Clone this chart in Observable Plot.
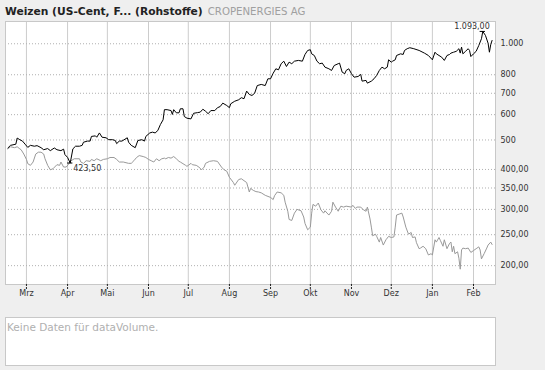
<!DOCTYPE html>
<html><head><meta charset="utf-8">
<script src="https://cdn.jsdelivr.net/npm/d3@7"></script>
<script src="https://cdn.jsdelivr.net/npm/@observablehq/plot@0.6"></script>
<style>
html,body{margin:0;padding:0;background:#efefef;width:545px;height:370px;overflow:hidden;font-family:"DejaVu Sans",sans-serif;}
#chart{position:absolute;left:0;top:0;}
#title{position:absolute;left:5px;top:7px;font-size:10.7px;white-space:nowrap;line-height:1;}
#title b{color:#222;}
#title span{color:#a0a0a0;font-size:10.2px;margin-left:5px;}
#vol{position:absolute;left:5px;top:317px;width:489px;height:47px;background:#fff;border:1px solid #c8c8c8;}
#vol span{position:absolute;left:1px;top:3px;font-size:10.5px;color:#b0b0b0;white-space:nowrap;}
</style>
</head><body>
<div id="chart"></div>
<div id="title"><b>Weizen (US-Cent, F... (Rohstoffe)</b><span>CROPENERGIES AG</span></div>
<div id="vol"><span>Keine Daten für dataVolume.</span></div>
<script>
const months = ["Jan","Feb","Mrz","Apr","Mai","Jun","Jul","Aug","Sep","Okt","Nov","Dez"];
const wheatTicks = [1000, 800, 700, 600, 500];
const cropTicks = [400, 350, 300, 250, 200];
const cropScale = 1.0108;

const wheatDates = ["2007-02-15","2007-02-17","2007-02-21","2007-02-22","2007-02-24","2007-02-26","2007-02-28","2007-03-02","2007-03-04","2007-03-07","2007-03-09","2007-03-12","2007-03-14","2007-03-17","2007-03-19","2007-03-22","2007-03-24","2007-03-27","2007-03-29","2007-03-30","2007-04-01","2007-04-03","2007-04-05","2007-04-07","2007-04-10","2007-04-12","2007-04-13","2007-04-16","2007-04-18","2007-04-19","2007-04-22","2007-04-23","2007-04-25","2007-04-27","2007-04-30","2007-05-02","2007-05-05","2007-05-07","2007-05-08","2007-05-10","2007-05-12","2007-05-16","2007-05-17","2007-05-19","2007-05-22","2007-05-24","2007-05-27","2007-05-29","2007-05-30","2007-06-02","2007-06-04","2007-06-06","2007-06-08","2007-06-10","2007-06-12","2007-06-13","2007-06-15","2007-06-18","2007-06-19","2007-06-20","2007-06-22","2007-06-24","2007-06-25","2007-06-27","2007-06-28","2007-06-30","2007-07-03","2007-07-05","2007-07-08","2007-07-10","2007-07-12","2007-07-14","2007-07-16","2007-07-18","2007-07-21","2007-07-23","2007-07-25","2007-07-27","2007-07-30","2007-08-01","2007-08-02","2007-08-05","2007-08-08","2007-08-10","2007-08-12","2007-08-14","2007-08-16","2007-08-18","2007-08-20","2007-08-22","2007-08-25","2007-08-28","2007-08-30","2007-09-01","2007-09-03","2007-09-05","2007-09-07","2007-09-09","2007-09-11","2007-09-13","2007-09-15","2007-09-17","2007-09-19","2007-09-22","2007-09-25","2007-09-27","2007-09-29","2007-10-01","2007-10-02","2007-10-04","2007-10-06","2007-10-08","2007-10-10","2007-10-12","2007-10-15","2007-10-17","2007-10-19","2007-10-22","2007-10-23","2007-10-25","2007-10-27","2007-10-28","2007-10-30","2007-11-01","2007-11-03","2007-11-06","2007-11-08","2007-11-09","2007-11-12","2007-11-13","2007-11-16","2007-11-18","2007-11-20","2007-11-22","2007-11-24","2007-11-26","2007-11-28","2007-11-29","2007-12-01","2007-12-02","2007-12-04","2007-12-05","2007-12-08","2007-12-10","2007-12-11","2007-12-13","2007-12-15","2007-12-18","2007-12-22","2007-12-26","2007-12-29","2008-01-01","2008-01-03","2008-01-04","2008-01-06","2008-01-08","2008-01-10","2008-01-12","2008-01-14","2008-01-15","2008-01-17","2008-01-19","2008-01-21","2008-01-22","2008-01-23","2008-01-24","2008-01-26","2008-01-28","2008-01-29","2008-01-30","2008-02-01","2008-02-03","2008-02-05","2008-02-07","2008-02-08","2008-02-10","2008-02-12","2008-02-13","2008-02-14","2008-02-15"];
const wheatValues = [472,481,485,507,501,496,485,474,481,478,480,473,466,470,463,472,466,463,468,450,441,423.5,469,478,478,481,492,496,496,513,515,510,526,510,508,501,501,498,487,496,496,508,492,481,473,498,501,496,513,526,529,526,535,559,578,622,622,618,601,622,608,608,626,626,592,585,582,606,609,611,624,615,604,618,618,631,636,652,641,631,649,661,668,678,673,711,694,689,700,740,746,740,777,777,809,835,829,866,882,849,876,866,882,887,882,926,953,958,930,919,882,866,870,845,835,825,855,866,870,815,806,825,835,806,786,790,802,764,768,753,764,777,796,825,845,835,845,891,876,882,891,919,930,926,953,965,972,965,953,935,919,891,941,930,919,908,887,919,926,935,941,947,965,935,976,930,947,965,953,912,930,947,988,1037,1093,1062,1004,941,995,1024];

const cropDates = ["2007-02-15","2007-02-17","2007-02-20","2007-02-22","2007-02-24","2007-02-25","2007-02-27","2007-03-01","2007-03-02","2007-03-04","2007-03-06","2007-03-08","2007-03-10","2007-03-12","2007-03-14","2007-03-15","2007-03-17","2007-03-19","2007-03-21","2007-03-24","2007-03-26","2007-03-27","2007-03-29","2007-03-31","2007-04-02","2007-04-03","2007-04-06","2007-04-10","2007-04-11","2007-04-13","2007-04-15","2007-04-18","2007-04-19","2007-04-21","2007-04-23","2007-04-26","2007-04-28","2007-05-01","2007-05-03","2007-05-06","2007-05-08","2007-05-10","2007-05-13","2007-05-17","2007-05-19","2007-05-21","2007-05-23","2007-05-25","2007-05-28","2007-05-30","2007-06-01","2007-06-03","2007-06-05","2007-06-07","2007-06-09","2007-06-11","2007-06-13","2007-06-14","2007-06-16","2007-06-18","2007-06-20","2007-06-22","2007-06-24","2007-06-25","2007-06-27","2007-06-29","2007-06-30","2007-07-03","2007-07-04","2007-07-07","2007-07-09","2007-07-11","2007-07-13","2007-07-14","2007-07-17","2007-07-20","2007-07-23","2007-07-26","2007-07-28","2007-07-30","2007-08-01","2007-08-04","2007-08-05","2007-08-08","2007-08-10","2007-08-14","2007-08-16","2007-08-17","2007-08-19","2007-08-21","2007-08-23","2007-08-25","2007-08-28","2007-09-01","2007-09-03","2007-09-04","2007-09-06","2007-09-09","2007-09-11","2007-09-12","2007-09-14","2007-09-15","2007-09-17","2007-09-19","2007-09-21","2007-09-24","2007-09-26","2007-09-27","2007-09-29","2007-10-01","2007-10-02","2007-10-03","2007-10-05","2007-10-07","2007-10-09","2007-10-11","2007-10-12","2007-10-15","2007-10-17","2007-10-18","2007-10-20","2007-10-22","2007-10-24","2007-10-26","2007-10-28","2007-11-01","2007-11-02","2007-11-04","2007-11-05","2007-11-08","2007-11-10","2007-11-12","2007-11-13","2007-11-15","2007-11-16","2007-11-17","2007-11-19","2007-11-20","2007-11-22","2007-11-23","2007-11-25","2007-11-27","2007-11-29","2007-12-01","2007-12-03","2007-12-04","2007-12-05","2007-12-07","2007-12-09","2007-12-10","2007-12-12","2007-12-14","2007-12-16","2007-12-17","2007-12-19","2007-12-20","2007-12-22","2007-12-23","2007-12-25","2007-12-27","2007-12-29","2007-12-31","2008-01-01","2008-01-03","2008-01-04","2008-01-06","2008-01-07","2008-01-09","2008-01-10","2008-01-12","2008-01-14","2008-01-15","2008-01-16","2008-01-17","2008-01-18","2008-01-20","2008-01-21","2008-01-22","2008-01-23","2008-01-24","2008-01-26","2008-01-28","2008-01-30","2008-02-01","2008-02-03","2008-02-05","2008-02-06","2008-02-07","2008-02-09","2008-02-11","2008-02-12","2008-02-14","2008-02-15"];
const cropValues = [464,471,468,471,464,461,447,430,417,412,422,447,453,453,447,432,412,399,402,414,412,422,407,407,417,424,432,432,422,418,426,424,430,426,432,426,430,432,436,436,430,422,422,418,418,426,436,442,439,436,430,426,422,432,426,432,434,432,436,434,439,432,424,422,417,412,409,418,414,412,407,399,407,418,424,426,424,407,399,395,378,364,357,372,374,364,340,349,344,341,340,338,332,327,322,331,340,338,332,316,296,279,277,292,300,297,284,271,259,264,292,311,307,314,299,292,297,288,296,316,305,296,307,305,307,305,309,302,305,305,299,296,305,280,264,248,251,247,237,245,232,241,247,245,246,264,288,290,292,284,264,251,254,245,246,236,226,227,230,226,216,218,216,241,237,245,240,230,241,226,235,237,221,230,218,221,211,195,224,227,226,227,220,223,226,229,224,210,218,227,232,237,233];

const loc = d3.formatLocale({decimal: ",", thousands: ".", grouping: [3], currency: ["", "€"]});
const f0 = loc.format(",.0f"), f2 = loc.format(",.2f");

const wheat = wheatDates.map((d, i) => ({date: new Date(d), value: wheatValues[i]}));
const crop = cropDates.map((d, i) => ({date: new Date(d), value: cropValues[i] * cropScale}));
const monthTicks = d3.utcMonth.range(new Date("2007-03-01"), new Date("2008-02-02"));
const maxPt = d3.greatest(wheat, d => d.value);
const minPt = d3.least(wheat, d => d.value);
const gridVals = wheatTicks.concat(cropTicks.map(v => v * cropScale));

const plot = Plot.plot({
  width: 545, height: 300,
  marginTop: 21, marginBottom: 16, marginLeft: 5, marginRight: 50,
  style: {background: "transparent", fontFamily: "DejaVu Sans", fontSize: "8px", color: "#333", overflow: "visible"},
  x: {type: "utc", domain: [new Date("2007-02-13T05:00Z"), new Date("2008-02-17T14:00Z")]},
  y: {type: "log", domain: [176.5, 1174]},
  marks: [
    Plot.frame({fill: "white", stroke: null}),
    Plot.gridX(monthTicks, {stroke: "#cccccc", strokeOpacity: 1}),
    Plot.gridY(gridVals, {stroke: "#b0b0b0", strokeOpacity: 1, strokeDasharray: "1,2"}),
    Plot.line(crop, {x: "date", y: "value", stroke: "#999999", strokeWidth: 1}),
    Plot.line(wheat, {x: "date", y: "value", stroke: "#000000", strokeWidth: 1}),
    Plot.ruleY([maxPt, minPt], {y: "value", x1: d => d3.utcDay.offset(d.date, -2), x2: d => d3.utcDay.offset(d.date, 2), stroke: "#000"}),
    Plot.text([maxPt], {x: "date", y: "value", text: d => f2(d.value), textAnchor: "end", dx: 7, dy: -4.5, fill: "#333", fontSize: 8}),
    Plot.text([minPt], {x: "date", y: "value", text: d => f2(d.value), textAnchor: "start", dx: 3, dy: 5, fill: "#333", fontSize: 8}),
    Plot.frame({stroke: "#c8c8c8"}),
    Plot.axisX(monthTicks, {tickSize: 5, tickPadding: 1, tickFormat: d => months[d.getUTCMonth()], stroke: "#222", strokeDasharray: "2,1", fill: "#333", label: null}),
    Plot.axisY(wheatTicks, {anchor: "right", tickSize: 0, tickPadding: 5, tickFormat: f0, fill: "#333", label: null}),
    Plot.axisY(cropTicks.map(v => v * cropScale), {anchor: "right", tickSize: 0, tickPadding: 5, tickFormat: v => f2(v / cropScale), fill: "#333", label: null})
  ]
});
document.getElementById("chart").appendChild(plot);
</script>
</body></html>
